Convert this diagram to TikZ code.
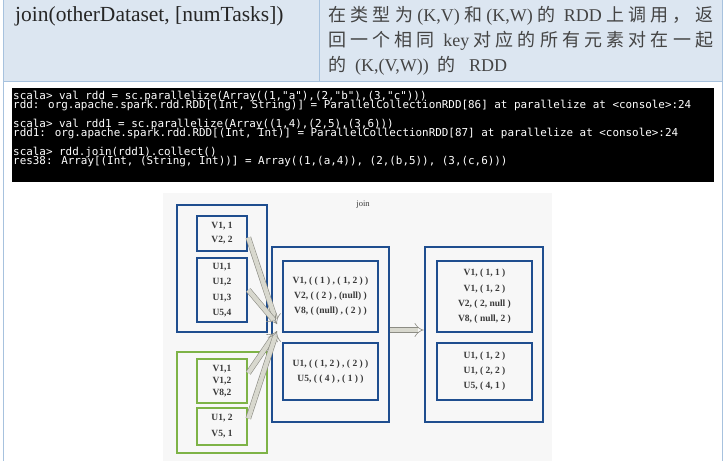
\documentclass[tikz,border=0pt]{standalone}
\usepackage{fontspec}
\setmainfont{Liberation Serif}
\newfontfamily\cjk{Noto Sans CJK SC}
\newfontfamily\termfont{DejaVu Sans Mono}
\usetikzlibrary{arrows.meta}
\definecolor{hdrfill}{HTML}{DCE6F1}
\definecolor{gridline}{HTML}{A7C2DE}
\definecolor{panelgray}{HTML}{F7F7F7}
\definecolor{rddblue}{HTML}{1F4E8F}
\definecolor{rddgreen}{HTML}{7EB347}
\definecolor{arrowfill}{HTML}{D8D8CE}
\definecolor{arrowline}{HTML}{8C8C84}
\definecolor{boxtext}{HTML}{3A3A3A}
\definecolor{desctext}{HTML}{444444}
\newcommand\gp{\hfil}

\begin{document}
\begin{tikzpicture}[x=1pt,y=-1pt,
  hdr/.style={anchor=west,inner sep=0pt},
  term/.style={anchor=west,inner sep=0pt,text=white,font=\termfont\fontsize{10.9}{11}\selectfont},
  bluebox/.style={draw=rddblue,line width=2.6pt,inner sep=0pt},
  greenbox/.style={draw=rddgreen,line width=2.6pt,inner sep=0pt},
  cell/.style={align=center,text=boxtext,font=\bfseries\fontsize{9.5}{#1}\selectfont},
  fatarrow/.style={draw=arrowline,line width=0.6pt,double=arrowfill,double distance=4.4pt,-{Implies}}]
\useasboundingbox (0,0) rectangle (725,461);

% table
\fill[hdrfill] (3,0) rectangle (722,81);
\draw[gridline] (3,0) -- (3,461) (722,0) -- (722,461);
\draw[gridline] (3,81) -- (722,81) (319,0) -- (319,81);

\node[hdr,text=black!85,font=\fontsize{21.5}{24}\selectfont] (op) at (15,16) {join(otherDataset, [numTasks])};
\begin{scope}[every node/.style={hdr,text=desctext,font=\fontsize{18}{22}\selectfont}]
\node (d1) at (328,16) {\makebox[385pt][s]{{\cjk 在\gp{}类\gp{}型\gp{}为}\gp{}(K,V)\gp{}{\cjk 和}\gp{}(K,W)\gp{}{\cjk 的}\gp{} RDD\gp{}{\cjk 上\gp{}调\gp{}用\gp{}，\gp{}返}}};
\node (d2) at (328,41) {\makebox[385pt][s]{{\cjk 回\gp{}一\gp{}个\gp{}相\gp{}同}\gp{} key\gp{}{\cjk 对\gp{}应\gp{}的\gp{}所\gp{}有\gp{}元\gp{}素\gp{}对\gp{}在\gp{}一\gp{}起}}};
\node (d3) at (328,66) {\makebox[179pt][s]{{\cjk 的}\gp{}(K,(V,W))\gp{}{\cjk 的}\gp{} RDD}};
\end{scope}

% console
\fill[black] (12,88) rectangle (714,182);
\node[term] (t1) at (13,96) {scala> val rdd = sc.parallelize(Array((1,"a"),(2,"b"),(3,"c")))};
\node[term] (t2) at (13,105.5) {rdd: org.apache.spark.rdd.RDD[(Int, String)] = ParallelCollectionRDD[86] at parallelize at <console>:24};
\node[term] (t3) at (13,124) {scala> val rdd1 = sc.parallelize(Array((1,4),(2,5),(3,6)))};
\node[term] (t4) at (13,133.5) {rdd1: org.apache.spark.rdd.RDD[(Int, Int)] = ParallelCollectionRDD[87] at parallelize at <console>:24};
\node[term] (t5) at (13,152) {scala> rdd.join(rdd1).collect()};
\node[term] (t6) at (13,161.5) {res38: Array[(Int, (String, Int))] = Array((1,(a,4)), (2,(b,5)), (3,(c,6)))};

% join figure
\fill[panelgray] (163,193) rectangle (552,461);
\node[text=boxtext,font=\fontsize{8.5}{9}\selectfont] (lbl) at (363,205) {join};

\node[bluebox,minimum width=90pt,minimum height=127pt] (A) at (222,268.5) {};
\node[greenbox,minimum width=90pt,minimum height=101pt] (B) at (222,402.5) {};
\node[bluebox,minimum width=117pt,minimum height=175pt] (M) at (330.5,334.5) {};
\node[bluebox,minimum width=118pt,minimum height=175pt] (R) at (484,334.5) {};

\node[bluebox,cell=14,minimum width=50pt,minimum height=35pt] (a1) at (222,233.5) {V1, 1\\V2, 2};
\node[bluebox,cell=15.3,minimum width=50pt,minimum height=64pt] (a2) at (222,290) {U1,1\\U1,2\\U1,3\\U5,4};
\node[greenbox,cell=12,minimum width=50pt,minimum height=44pt] (b1) at (222,381) {V1,1\\V1,2\\V8,2};
\node[greenbox,cell=16,minimum width=50pt,minimum height=37pt] (b2) at (222,426.5) {U1, 2\\V5, 1};

\node[bluebox,cell=15,minimum width=95pt,minimum height=71pt] (m1) at (330.5,296.5)
  {V1, ( ( 1 ) , ( 1, 2 ) )\\V2, ( ( 2 ) , (null) )\\V8, ( (null) , ( 2 ) )};
\node[bluebox,cell=15,minimum width=95pt,minimum height=57pt] (m2) at (330.5,371.5)
  {U1, ( ( 1, 2 ) , ( 2 ) )\\U5, ( ( 4 ) , ( 1 ) )};
\node[bluebox,cell=15.3,minimum width=95pt,minimum height=71pt] (r1) at (484.5,296.5)
  {V1, ( 1, 1 )\\V1, ( 1, 2 )\\V2, ( 2, null )\\V8, ( null, 2 )};
\node[bluebox,cell=15,minimum width=95pt,minimum height=57pt] (r2) at (484.5,371.5)
  {U1, ( 1, 2 )\\U1, ( 2, 2 )\\U5, ( 4, 1 )};

% arrows
\coordinate (hubA) at (277,324);
\coordinate (hubB) at (277,331);
\draw[fatarrow] ([yshift=-4pt]a1.east) -- (hubA);
\draw[fatarrow] (a2.east) -- (hubA);
\draw[fatarrow] ([yshift=8pt]b1.east) -- (hubB);
\draw[fatarrow] ([yshift=8pt]b2.east) -- (hubB);
\draw[fatarrow] ([yshift=4.5pt]M.east) -- ([yshift=4.5pt]R.west);
\end{tikzpicture}
\end{document}
